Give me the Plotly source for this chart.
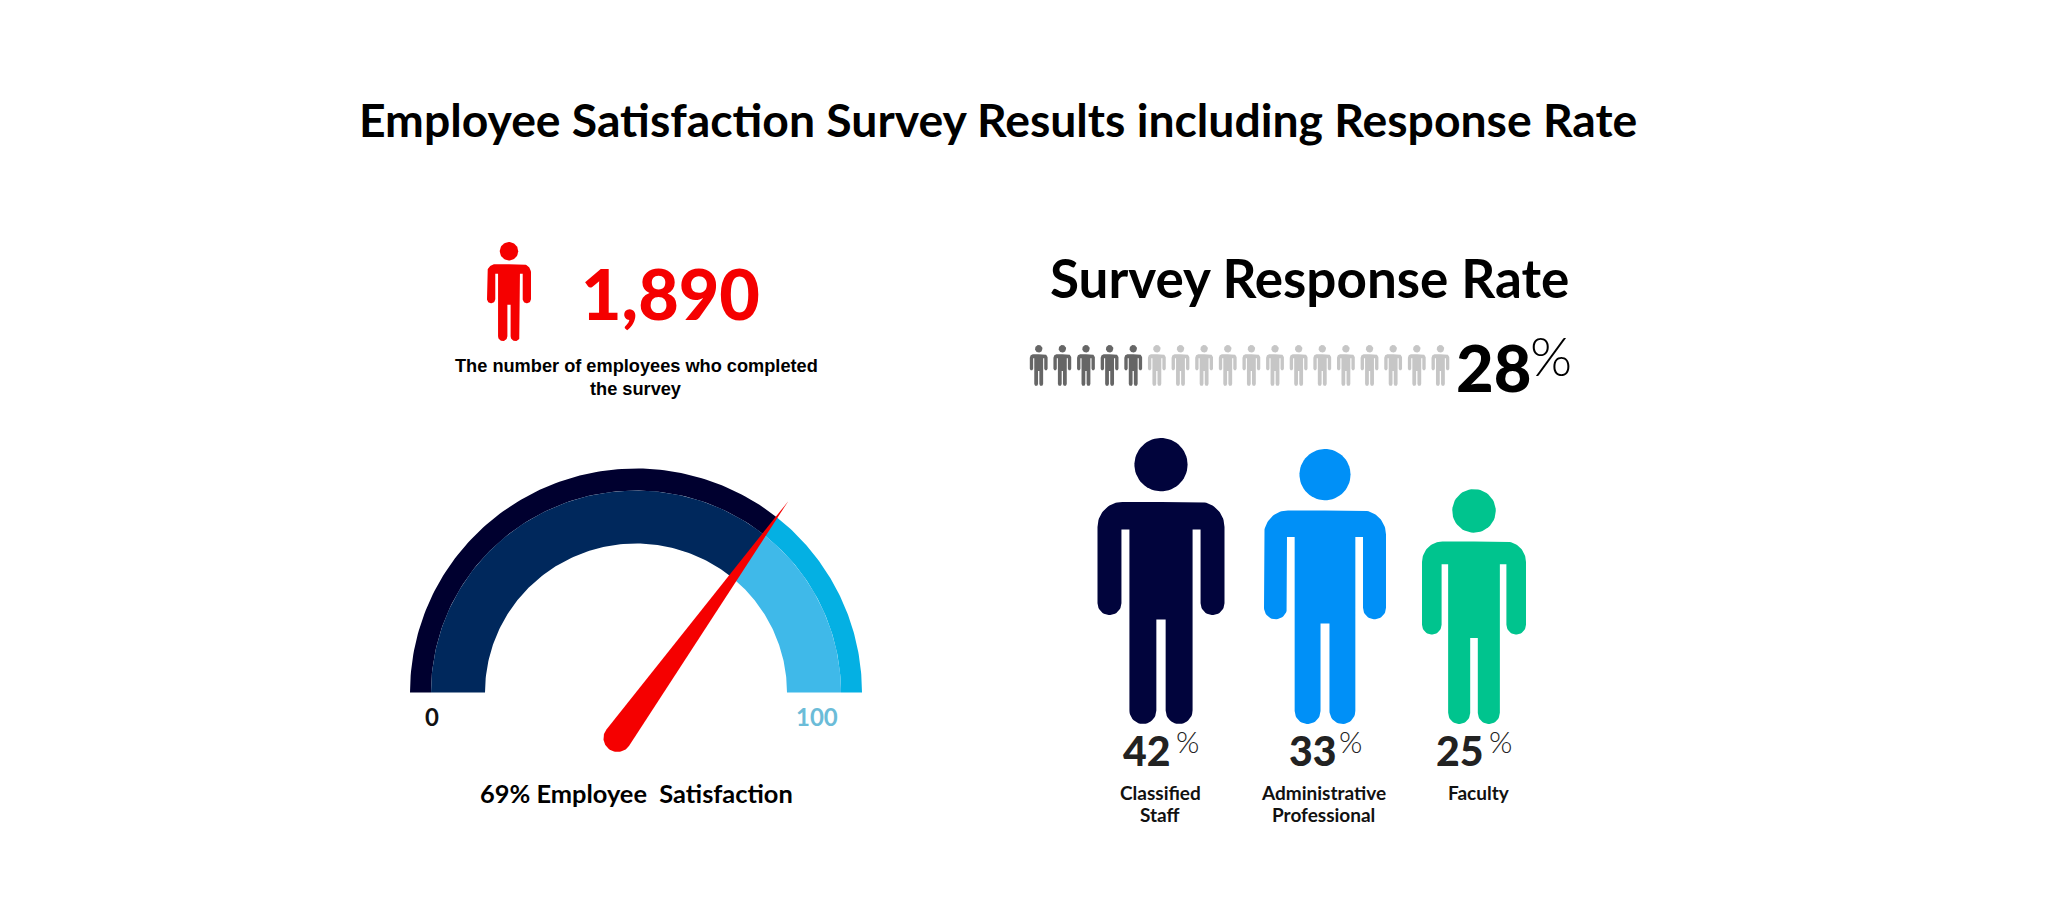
import numpy as np
import plotly.graph_objects as go

# values
chart_title = "Employee Satisfaction Survey Results including Response Rate"
completed_count = "1,890"
completed_note = ["The number of employees who completed", "the survey"]
satisfaction_value = 69
scale_labels = ["0", "100"]
response_rate = 28
response_icons = 18
group_names = [["Classified", "Staff"], ["Administrative", "Professional"], ["Faculty"]]
group_shares = [42, 33, 25]
group_colors = ["#01043c", "#0090f7", "#00c48e"]

RED = "#f50000"
GEOMETRIC = "Lato"
W, H = 2048, 907


def arc(cx, cy, r, a0, a1, n=24):
    a = np.radians(np.linspace(a0, a1, n))
    return list(cx + r * np.cos(a)), list(cy + r * np.sin(a))


def person_outline():
    # right half of the figure, y grows downward, full height is 859 units
    xs, ys = [0.0], [192.0]
    parts = [
        arc(116, 267, 75, -90, 0),       # shoulder
        arc(155, 496, 36, 0, 180),       # hand
        ([119, 95, 95], [275, 275, 818]),  # armpit and outer leg
        arc(54.5, 818.5, 40.5, 0, 180),  # foot
        ([14, 0], [545, 545]),           # crotch
    ]
    for px, py in parts:
        xs += list(px)
        ys += list(py)
    xs = np.array(xs)
    ys = np.array(ys)
    return np.r_[xs, -xs[::-1]], np.r_[ys, ys[::-1]]


def add_poly(fig, x, y, color):
    fig.add_trace(go.Scatter(
        x=list(x), y=list(y), mode="lines", fill="toself", fillcolor=color,
        line=dict(width=0, color=color), hoverinfo="skip", showlegend=False,
    ))


def add_person(fig, cx, top, width, height, color):
    sx, sy = width / 382, height / 859
    bx, by = person_outline()
    add_poly(fig, cx + bx * sx, top + by * sy, color)
    a = np.linspace(0, 2 * np.pi, 60)
    add_poly(fig, cx + 80 * sx * np.cos(a), top + (80 + 80 * np.sin(a)) * sy, color)


def add_text(fig, x, y, text, size, color="#000000", family=GEOMETRIC, weight=700):
    fig.add_annotation(
        x=x, y=y, xref="x", yref="y", text=text, showarrow=False,
        xanchor="center", yanchor="middle",
        font=dict(family=family, size=size, color=color, weight=weight),
    )


fig = go.Figure()

# Gauge
GX, GY = 636, 692.5
OUTER, MIDDLE, INNER = (226, 224), (205, 202), (151, 149)
PIVOT = np.array([617.5, 738.0])
NEEDLE_LEN = 292
NEEDLE_SWEEP = 182.3  # the pivot sits off-centre, so the sweep is a bit over 180


def needle_dir(value):
    deg = np.radians(180 - value / 100 * NEEDLE_SWEEP)
    return np.array([np.cos(deg), -np.sin(deg)])


def split_angle(rx, ry, d):
    # where the needle line crosses the ellipse
    ox, oy = (PIVOT[0] - GX) / rx, (PIVOT[1] - GY) / ry
    dx, dy = d[0] / rx, d[1] / ry
    a, b, c = dx**2 + dy**2, 2 * (ox * dx + oy * dy), ox**2 + oy**2 - 1
    s = (-b + np.sqrt(b**2 - 4 * a * c)) / (2 * a)
    return np.arctan2(-(oy + s * dy), ox + s * dx)


def add_band(fig, e1, e2, light, d, color):
    t1, t2 = split_angle(*e1, d), split_angle(*e2, d)
    if light:
        a1, a2 = np.linspace(t1, 0, 80), np.linspace(t2, 0, 80)
    else:
        a1, a2 = np.linspace(np.pi, t1, 120), np.linspace(np.pi, t2, 120)
    x = np.r_[GX + e1[0] * np.cos(a1), (GX + e2[0] * np.cos(a2))[::-1]]
    y = np.r_[GY - e1[1] * np.sin(a1), (GY - e2[1] * np.sin(a2))[::-1]]
    add_poly(fig, x, y, color)


d = needle_dir(satisfaction_value)
add_band(fig, OUTER, MIDDLE, False, d, "#00002f")
add_band(fig, MIDDLE, INNER, False, d, "#00285c")
add_band(fig, OUTER, MIDDLE, True, d, "#04b0e3")
add_band(fig, MIDDLE, INNER, True, d, "#3fb9e9")

# needle: round base tapering to a point
tip = PIVOT + d * NEEDLE_LEN
base_r = 14
base_deg = np.degrees(np.arctan2(d[1], d[0]))
bx, by = arc(PIVOT[0], PIVOT[1], base_r, base_deg + 88, base_deg + 272, 40)
add_poly(fig, bx + [tip[0]], by + [tip[1]], RED)

add_text(fig, 432, 716, scale_labels[0], 24, "#111111")
add_text(fig, 817, 716, scale_labels[1], 24, "#6bbcd8")
add_text(fig, 636, 793, f"{satisfaction_value}% Employee  Satisfaction", 25.4)

# Completed count
add_person(fig, 509, 242, 44, 99, RED)
add_text(fig, 670, 293, completed_count, 70, RED, weight=900)
add_text(fig, 636, 366, completed_note[0], 18.2, family="Liberation Sans")
add_text(fig, 636, 389, completed_note[1], 18.2, family="Liberation Sans")

# Title and response rate
add_text(fig, 998, 119, chart_title, 46.3)
add_text(fig, 1309, 277, "Survey Response Rate", 53)

dark_icons = round(response_rate / 100 * response_icons)
for i in range(response_icons):
    add_person(fig, 1038.7 + i * 23.63, 345, 17.8, 41, "#666666" if i < dark_icons else "#c6c6c6")
add_text(fig, 1493, 367, str(response_rate), 65, weight=900)
add_text(fig, 1551, 355, "%", 54, weight=300)

# Staff groups
group_x = [1161, 1325, 1474]
group_top = [438, 449, 489]
group_width = [127, 122, 104]
num_x = [1147, 1313, 1460]
pct_x = [1187, 1350, 1500]
label_x = [1160, 1323, 1479]
for i in range(len(group_shares)):
    add_person(fig, group_x[i], group_top[i], group_width[i], 724 - group_top[i], group_colors[i])
    add_text(fig, num_x[i], 750, str(group_shares[i]), 41, "#222222", weight=900)
    add_text(fig, pct_x[i], 741, "%", 30, "#222222", weight=300)
    for j, line in enumerate(group_names[i]):
        add_text(fig, label_x[i], 792 + j * 22, line, 19, "#111111")

fig.update_layout(
    width=W, height=H, margin=dict(l=0, r=0, t=0, b=0),
    paper_bgcolor="white", plot_bgcolor="white", showlegend=False,
    xaxis=dict(range=[0, W], visible=False, fixedrange=True),
    yaxis=dict(range=[H, 0], visible=False, fixedrange=True),
)
fig.write_html("out.html", config={"displayModeBar": False},
               post_script="document.body.style.margin='0';")
